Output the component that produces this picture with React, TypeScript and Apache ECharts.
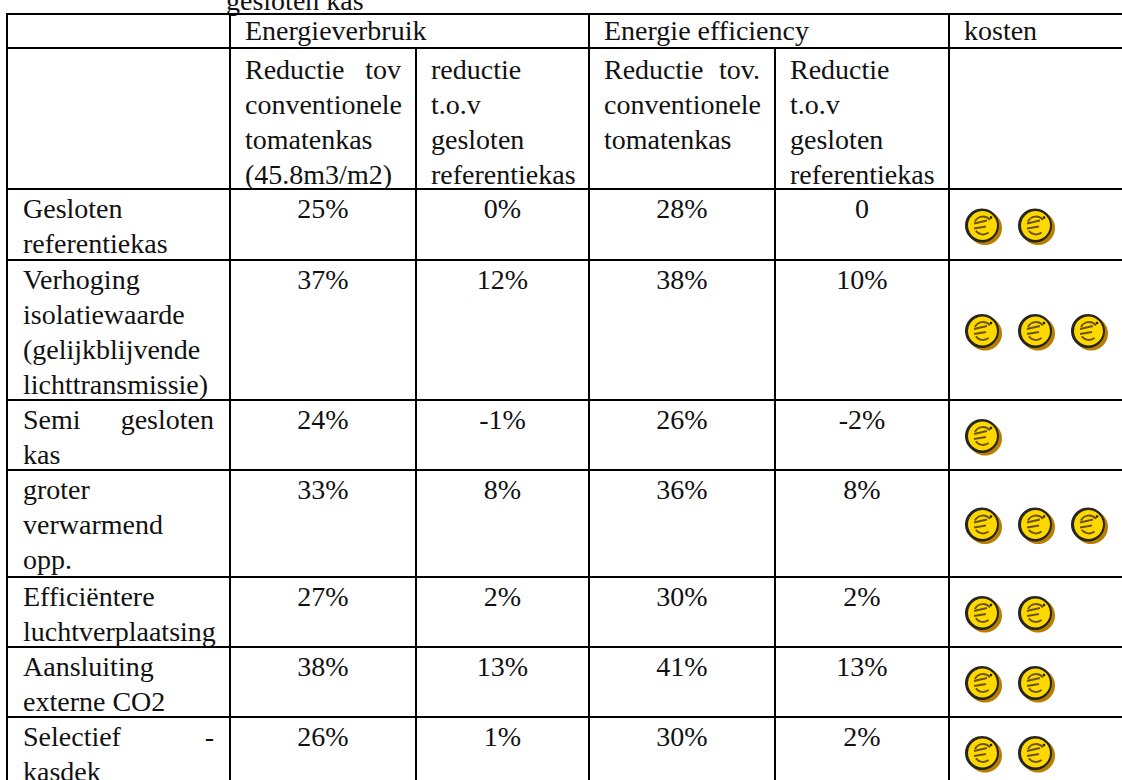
import React, { useEffect, useRef } from "react";
import * as echarts from "echarts";

const rowLabels = [
  ["Gesloten", "referentiekas"],
  ["Verhoging", "isolatiewaarde", "(gelijkblijvende", "lichttransmissie)"],
  ["Semi|gesloten", "kas"],
  ["groter", "verwarmend", "opp."],
  ["Efficiëntere", "luchtverplaatsing"],
  ["Aansluiting", "externe CO2"],
  ["Selectief|-", "kasdek"],
];
const verbruikTomaat = ["25%", "37%", "24%", "33%", "27%", "38%", "26%"];
const verbruikGesloten = ["0%", "12%", "-1%", "8%", "2%", "13%", "1%"];
const efficiencyTomaat = ["28%", "38%", "26%", "36%", "30%", "41%", "30%"];
const efficiencyGesloten = ["0", "10%", "-2%", "8%", "2%", "13%", "2%"];
const coinCounts = [2, 3, 1, 3, 2, 2, 2];
const subHeaders = [
  ["Reductie|tov", "conventionele", "tomatenkas", "(45.8m3/m2)"],
  ["reductie", "t.o.v", "gesloten", "referentiekas"],
  ["Reductie|tov.", "conventionele", "tomatenkas"],
  ["Reductie", "t.o.v", "gesloten", "referentiekas"],
];
const topHeaders = ["Energieverbruik", "Energie efficiency", "kosten"];
const caption = "gesloten kas";

const X = [7, 230, 416, 589, 775, 949, 1122];
const Y = [14, 48, 189, 260, 400, 470, 577, 647, 717];
const FONT = "'Liberation Serif', 'Times New Roman', serif";
const SIZE = 28;
const LH = 35;

function txt(x: number, y: number, s: string, align = "left") {
  return {
    type: "text", x, y, silent: true,
    style: { text: s, x: 0, y: 0, fill: "#111", font: `${SIZE}px ${FONT}`, align, verticalAlign: "middle" },
  };
}
function lineTxt(x0: number, x1: number, y: number, s: string) {
  if (s.includes("|")) {
    const [a, b] = s.split("|");
    return [txt(x0, y, a), txt(x1, y, b, "right")];
  }
  return [txt(x0, y, s)];
}
function seg(x1: number, y1: number, x2: number, y2: number) {
  return { type: "line", silent: true, shape: { x1, y1, x2, y2 }, style: { stroke: "#000", lineWidth: 2 } };
}
function coin(cx: number, cy: number) {
  const c = (r: number, dx: number, dy: number, style: any) => ({
    type: "circle", silent: true, shape: { cx: cx + dx, cy: cy + dy, r }, style,
  });
  const ink = "#6a5300";
  const l = (x1: number, y1: number, x2: number, y2: number) => ({
    type: "line", silent: true, shape: { x1: cx + x1, y1: cy + y1, x2: cx + x2, y2: cy + y2 },
    style: { stroke: ink, lineWidth: 1.8 },
  });
  const arc = (r: number, startAngle: number, endAngle: number) => ({
    type: "arc", silent: true,
    shape: { cx: cx + 1, cy, r, startAngle, endAngle, clockwise: true },
    style: { stroke: ink, lineWidth: 1.8, fill: "none" },
  });
  return [
    c(17, 3, 2.5, { fill: "#b97f00" }),
    c(17, 0, 0, { fill: "#26251f" }),
    c(14.5, 0.5, 0, { fill: "#ffd800" }),
    arc(9, 3.6, 5.6),
    arc(9, 0.9, 2.5),
    l(-8, -2, 5, -5),
    l(-8, 3, 4, 1),
    c(1.3, 9, -8, { fill: "#222" }),
  ];
}

export default function App() {
  const ref = useRef<HTMLDivElement>(null);
  useEffect(() => {
    const chart = echarts.init(ref.current!, null, { renderer: "svg" });
    const els: any[] = [];
    els.push(txt(226, 0, caption));
    Y.forEach((y) => els.push(seg(X[0] - 1, y, X[6], y)));
    [0, 1, 3, 5].forEach((i) => els.push(seg(X[i], Y[0], X[i], 780)));
    [2, 4].forEach((i) => els.push(seg(X[i], Y[1], X[i], 780)));
    [1, 3, 5].forEach((c, i) => els.push(txt(X[c] + 15, 30, topHeaders[i])));
    subHeaders.forEach((lines, i) => {
      const x0 = X[i + 1] + 15;
      const x1 = X[i + 2] - 15;
      lines.forEach((s, j) => els.push(...lineTxt(x0, x1, 69 + j * LH, s)));
    });
    rowLabels.forEach((lines, r) => {
      const top = Y[r + 2];
      const bottom = Y[r + 3] ?? top + 70;
      lines.forEach((s, j) => els.push(...lineTxt(X[0] + 16, X[1] - 16, top + 19 + j * LH, s)));
      [verbruikTomaat, verbruikGesloten, efficiencyTomaat, efficiencyGesloten].forEach((col, c) => {
        const xc = (X[c + 1] + X[c + 2]) / 2;
        els.push(txt(xc, top + 19, col[r], "center"));
      });
      for (let k = 0; k < coinCounts[r]; k++) els.push(...coin(X[5] + 33 + k * 53, (top + bottom) / 2 + 1));
    });
    chart.setOption({ animation: false, backgroundColor: "#fff", graphic: { elements: els } });
    return () => chart.dispose();
  }, []);
  return <div ref={ref} style={{ position: "fixed", left: 0, top: 0, width: 1122, height: 780 }} />;
}
